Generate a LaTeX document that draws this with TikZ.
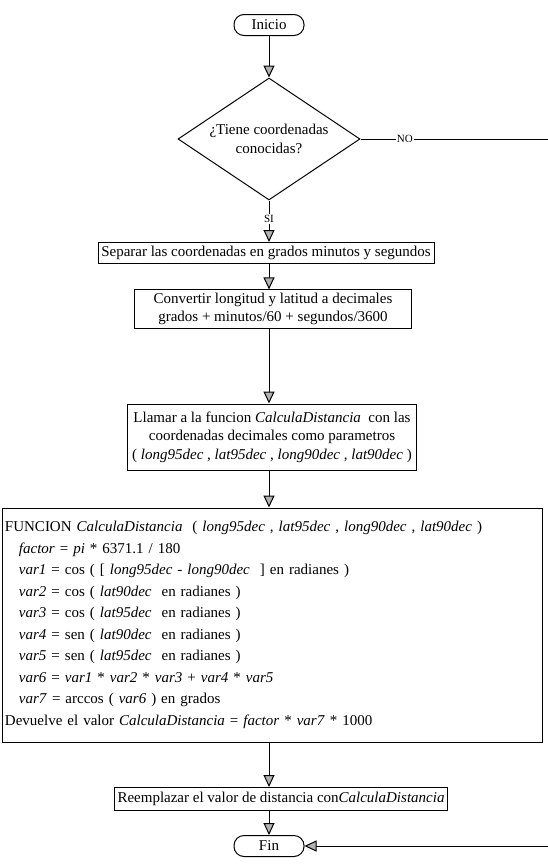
\documentclass[tikz,border=0pt]{standalone}
\usepackage{fontspec}
\setmainfont{Liberation Serif}
\usetikzlibrary{shapes.geometric,arrows.meta}
\def\cur#1{\textit{#1}}
\def\sangria{\hspace*{14pt}}

\begin{document}
\begin{tikzpicture}[x=1pt,y=-1pt,
    every node/.style={font=\fontsize{15}{18.5}\selectfont},
    caja/.style={draw,line width=1pt,inner sep=3pt},
    term/.style={draw,line width=1pt,rounded corners=10pt,minimum width=70pt,minimum height=21pt},
    flecha/.style={line width=1pt,-{Triangle[width=11pt,length=12pt,fill=gray!60]}},
    etiq/.style={fill=white,inner sep=1pt,font=\fontsize{11}{13}\selectfont}]
    \useasboundingbox (0,0) rectangle (547,865);
    \coordinate (eje) at (269,0);
    \coordinate (fuera) at (553,0);
    \node[term] (ini) at (269,25) {Inicio};
    \node[draw,diamond,aspect=1.5,inner sep=0pt,minimum width=182pt,minimum height=122pt,
          line width=1pt,align=center] (dec) at (269,139) {¿Tiene coordenadas\\conocidas?};
    \node[caja,minimum width=336pt,minimum height=21pt] (sep) at (266,253)
        {Separar las coordenadas en grados minutos y segundos};
    \node[caja,align=center,minimum width=277pt,minimum height=38pt] (conv) at (273,309)
        {Convertir longitud y latitud a decimales\\grados + minutos/60 + segundos/3600};
    \node[caja,align=center,minimum width=289pt,minimum height=66pt] (llam) at (272,437)
        {Llamar a la funcion \cur{CalculaDistancia}\ \ con las\\
         coordenadas decimales como parametros\\
         ( \cur{long95dec} , \cur{lat95dec} , \cur{long90dec} , \cur{lat90dec} )};
    \node[caja,align=left,text width=534pt,minimum height=234pt,
          font=\fontsize{15}{21.5}\selectfont] (func) at (272,625)
        {FUNCION \cur{CalculaDistancia}\ \ ( \cur{long95dec} , \cur{lat95dec} , \cur{long90dec} , \cur{lat90dec} )\\
         \sangria\cur{factor} = \cur{pi} * 6371.1 / 180\\
         \sangria\cur{var1} = cos ( [ \cur{long95dec} - \cur{long90dec}\ \ ] en radianes )\\
         \sangria\cur{var2} = cos ( \cur{lat90dec}\ \ en radianes )\\
         \sangria\cur{var3} = cos ( \cur{lat95dec}\ \ en radianes )\\
         \sangria\cur{var4} = sen ( \cur{lat90dec}\ \ en radianes )\\
         \sangria\cur{var5} = sen ( \cur{lat95dec}\ \ en radianes )\\
         \sangria\cur{var6} = \cur{var1} * \cur{var2} * \cur{var3} + \cur{var4} * \cur{var5}\\
         \sangria\cur{var7} = arccos ( \cur{var6} ) en grados\\
         Devuelve el valor \cur{CalculaDistancia} = \cur{factor} * \cur{var7} * 1000};
    \node[caja,minimum width=302pt,minimum height=23pt] (reem) at (281,799)
        {Reemplazar el valor de distancia con\cur{CalculaDistancia}};
    \node[term] (fin) at (269,846) {Fin};
    \draw[flecha] (ini) -- (dec);
    \draw[flecha] (dec) -- node[etiq,pos=0.45] {SI} (sep.north -| eje);
    \draw[flecha] (sep.south -| eje) -- (conv.north -| eje);
    \draw[flecha] (conv.south -| eje) -- (llam.north -| eje);
    \draw[flecha] (llam.south -| eje) -- (func.north -| eje);
    \draw[flecha] (func.south -| eje) -- (reem.north -| eje);
    \draw[flecha] (reem.south -| eje) -- (fin);
    \draw[flecha] (dec.east) -- node[etiq,pos=0.23] {NO} (dec.east -| fuera) |- (fin.east);
\end{tikzpicture}
\end{document}
